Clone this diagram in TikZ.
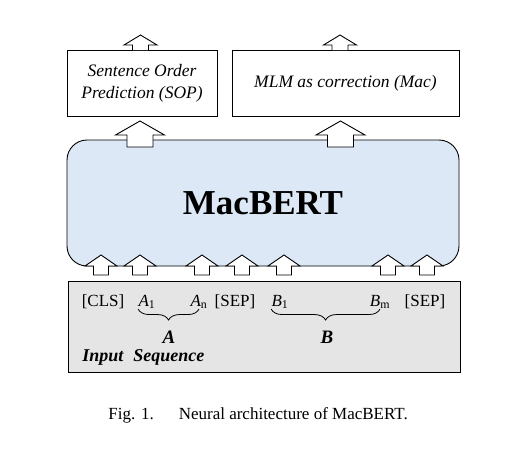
\documentclass[tikz,border=0pt]{standalone}
\usepackage{fontspec}
\setmainfont{Liberation Serif}
\usepackage{tikz}
\usetikzlibrary{decorations.pathreplacing}
\definecolor{macblue}{HTML}{DCE8F5}
\definecolor{inputgray}{HTML}{E5E5E5}

\begin{document}
\begin{tikzpicture}[x=1pt, y=-1pt, line width=0.9pt,
  blockarrow/.style={draw, fill=white, line join=miter},
  headbox/.style={draw, minimum height=66pt, font=\itshape\fontsize{17.5}{22}\selectfont},
  tok/.style={anchor=base, inner sep=0pt, font=\fontsize{17}{20}\selectfont},
  brace/.style={decorate, decoration={brace, mirror, amplitude=11pt}, line width=0.8pt}]
  \useasboundingbox (0,0) rectangle (519,459);

  % Ausgaben
  \node[headbox, minimum width=150pt, align=center] (sop) at (142,83.5) {Sentence Order\\Prediction (SOP)};
  \node[headbox, minimum width=227pt] (mac) at (345.5,83.5) {MLM as correction (Mac)};

  % Modell
  \node[draw, rounded corners=20pt, fill=macblue, minimum width=392pt, minimum height=126pt,
        font=\bfseries\fontsize{35}{40}\selectfont] (bert) at (263,203) {MacBERT};

  % Eingabe
  \node[draw, fill=inputgray, minimum width=392pt, minimum height=91pt] (input) at (264,326.5) {};
  \node[tok] (cls) at (103,306) {[CLS]};
  \node[tok] (a1) at (147,306) {\textit{A}\textsubscript{1}};
  \node[tok] (an) at (199,306) {\textit{A}\textsubscript{n}};
  \node[tok] (sep1) at (235,306) {[SEP]};
  \node[tok] (b1) at (280,306) {\textit{B}\textsubscript{1}};
  \node[tok] (bm) at (380,306) {\textit{B}\textsubscript{m}};
  \node[tok] (sep2) at (425,306) {[SEP]};
  \draw[brace] (a1.south west) -- (an.south);
  \draw[brace] (b1.south west) -- (bm.south);
  \node[font=\bfseries\itshape\fontsize{19}{22}\selectfont] (lblA) at (169,337) {A};
  \node[font=\bfseries\itshape\fontsize{19}{22}\selectfont] (lblB) at (327,337) {B};
  \node[anchor=base west, inner sep=0pt, font=\bfseries\itshape\fontsize{18}{22}\selectfont] (inseq) at (82,361) {Input\hspace{10pt}Sequence};

  % Pfeile
  \foreach \cx in {140.5, 340}
    \draw[blockarrow] (\cx-8,50) -- (\cx-8,45) -- (\cx-16.5,45) -- (\cx,35) -- (\cx+16.5,45) -- (\cx+8,45) -- (\cx+8,50);
  \foreach \cx in {140, 340.5}
    \draw[blockarrow] (\cx-13,147) -- (\cx-13,135) -- (\cx-24.5,135) -- (\cx,121) -- (\cx+24.5,135) -- (\cx+13,135) -- (\cx+13,147) -- cycle;
  \foreach \cx in {101, 140, 202, 242, 284, 388, 427}
    \draw[blockarrow] (\cx-7.5,275) -- (\cx-7.5,266) -- (\cx-16,266) -- (\cx,255) -- (\cx+16,266) -- (\cx+7.5,266) -- (\cx+7.5,275) -- cycle;

  % Bildunterschrift
  \node[anchor=base west, inner sep=0pt, font=\fontsize{17}{20}\selectfont] (caption) at (108,419) {Fig. 1.\hspace{25pt}Neural architecture of MacBERT.};
\end{tikzpicture}
\end{document}
